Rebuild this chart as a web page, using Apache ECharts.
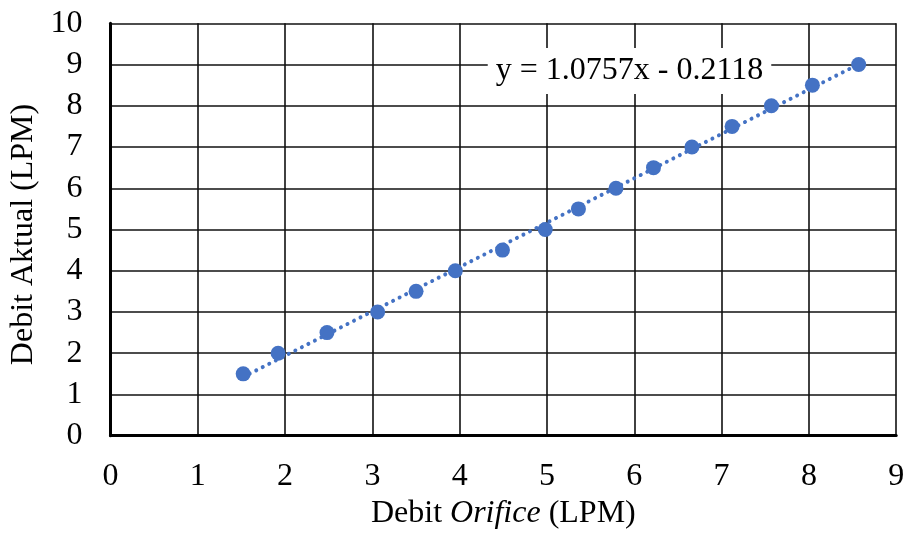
<!DOCTYPE html>
<html>
<head>
<meta charset="utf-8">
<script src="https://cdn.jsdelivr.net/npm/echarts@6/dist/echarts.min.js"></script>
<style>
  html, body { margin: 0; padding: 0; background: #fff; }
  #chart { width: 907px; height: 536px; }
</style>
</head>
<body>
<div id="chart"></div>
<script>
// Measured flow rates: orifice reading vs. actual flow (LPM)
const debitOrifice = [1.52, 1.92, 2.48, 3.06, 3.50, 3.95, 4.49, 4.98, 5.36, 5.79, 6.22, 6.66, 7.12, 7.57, 8.04, 8.57];
const debitAktual  = [1.5, 2.0, 2.5, 3.0, 3.5, 4.0, 4.5, 5.0, 5.5, 6.0, 6.5, 7.0, 7.5, 8.0, 8.5, 9.0];

// Linear trendline coefficients
const slope = 1.0757;
const intercept = -0.2118;

const xTicks = [0, 1, 2, 3, 4, 5, 6, 7, 8, 9];
const yTicks = [0, 1, 2, 3, 4, 5, 6, 7, 8, 9, 10];

const serif = '"Liberation Serif", "Times New Roman", serif';
const fontSize = 32;

const points = debitOrifice.map((x, i) => [x, debitAktual[i]]);
const xMin = Math.min(...debitOrifice);
const xMax = Math.max(...debitOrifice);
const trend = [[xMin, slope * xMin + intercept], [xMax, slope * xMax + intercept]];
const eqText = 'y = ' + slope.toFixed(4) + 'x ' + (intercept < 0 ? '- ' : '+ ') + Math.abs(intercept).toFixed(4);

const chart = echarts.init(document.getElementById('chart'), null, { renderer: 'canvas' });

const gridLine = { show: true, lineStyle: { color: '#111', width: 1.6 } };

chart.setOption({
  animation: false,
  backgroundColor: '#fff',
  grid: { left: 110.5, right: 10.8, top: 23.3, bottom: 100.3, containLabel: false, outerBoundsMode: 'none' },
  xAxis: {
    type: 'value',
    min: xTicks[0],
    max: xTicks[xTicks.length - 1],
    interval: 1,
    name: '{n|Debit }{i|Orifice}{n| (LPM)}',
    nameLocation: 'middle',
    nameGap: 58,
    nameTextStyle: {
      rich: {
        n: { fontFamily: serif, fontSize: fontSize, color: '#000' },
        i: { fontFamily: serif, fontSize: fontSize, fontStyle: 'italic', color: '#000' }
      }
    },
    axisLine: { show: true, lineStyle: { color: '#000', width: 3 } },
    axisTick: { show: false },
    axisLabel: { fontFamily: serif, fontSize: fontSize, color: '#000', margin: 25 },
    splitLine: gridLine
  },
  yAxis: {
    type: 'value',
    min: yTicks[0],
    max: yTicks[yTicks.length - 1],
    interval: 1,
    name: 'Debit Aktual (LPM)',
    nameLocation: 'middle',
    nameGap: 70,
    nameTextStyle: { fontFamily: serif, fontSize: fontSize, color: '#000', padding: [0, 10, 0, 0] },
    axisLine: { show: true, lineStyle: { color: '#000', width: 3 } },
    axisTick: { show: false },
    axisLabel: { fontFamily: serif, fontSize: fontSize, color: '#000', margin: 28 },
    splitLine: gridLine
  },
  series: [
    {
      name: 'Trendline',
      type: 'line',
      data: trend,
      symbol: 'none',
      silent: true,
      z: 2,
      lineStyle: { color: '#4472C4', width: 4, type: [0.01, 7.3], cap: 'round' }
    },
    {
      name: 'Debit',
      type: 'scatter',
      data: points,
      symbol: 'circle',
      symbolSize: 15,
      z: 3,
      itemStyle: { color: '#4472C4', opacity: 1 }
    }
  ],
  graphic: [
    {
      type: 'text',
      x: 629.5,
      y: 71,
      z: 10,
      style: {
        text: eqText,
        fontFamily: serif,
        fontSize: fontSize,
        fill: '#000',
        backgroundColor: '#fff',
        padding: [7, 8, 7, 8],
        align: 'center',
        verticalAlign: 'middle'
      }
    }
  ]
});
</script>
</body>
</html>
